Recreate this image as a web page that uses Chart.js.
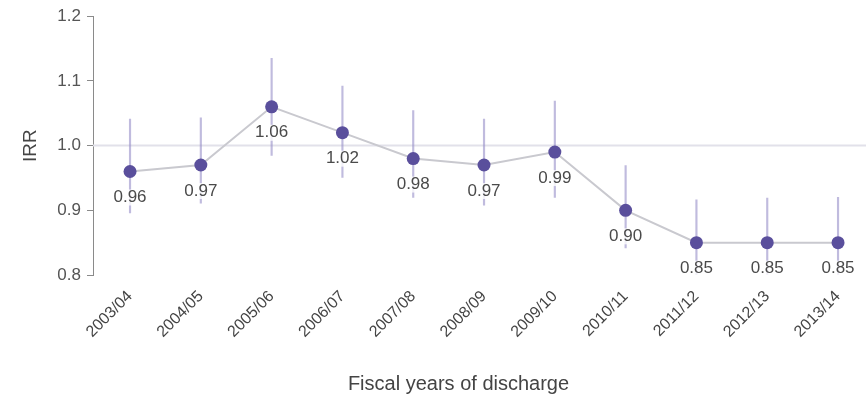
<!DOCTYPE html>
<html>
<head>
<meta charset="utf-8">
<script src="https://cdn.jsdelivr.net/npm/chart.js@4/dist/chart.umd.min.js"></script>
<style>
  html, body { margin: 0; padding: 0; background: #ffffff; }
  #wrap { width: 866px; height: 398px; }
</style>
</head>
<body>
<div id="wrap"><canvas id="chart" width="866" height="398"></canvas></div>
<script>
// Fiscal years of discharge and incidence rate ratios with 95% confidence limits
const years = ['2003/04', '2004/05', '2005/06', '2006/07', '2007/08', '2008/09',
               '2009/10', '2010/11', '2011/12', '2012/13', '2013/14'];
const irr = [0.96, 0.97, 1.06, 1.02, 0.98, 0.97, 0.99, 0.90, 0.85, 0.85, 0.85];
const ciLower = [0.896, 0.911, 0.985, 0.951, 0.920, 0.908, 0.920, 0.842, 0.79, 0.79, 0.79];
const ciUpper = [1.041, 1.043, 1.135, 1.092, 1.054, 1.041, 1.069, 0.969, 0.916, 0.919, 0.920];
const yTicks = [0.8, 0.9, 1.0, 1.1, 1.2];
const REFERENCE_IRR = 1.0;
const X_TITLE = 'Fiscal years of discharge';

const FONT = '"Liberation Sans", Arial, Helvetica, sans-serif';

// Horizontal reference line at IRR = 1
const referenceLine = {
  id: 'referenceLine',
  beforeDatasetsDraw(chart) {
    const { ctx, chartArea } = chart;
    const y = chart.scales.y.getPixelForValue(REFERENCE_IRR);
    ctx.save();
    ctx.strokeStyle = '#e2e1ea';
    ctx.lineWidth = 2;
    ctx.beginPath();
    ctx.moveTo(chartArea.left, y);
    ctx.lineTo(chartArea.right, y);
    ctx.stroke();
    ctx.restore();
  }
};

// Value labels printed under each point, plus the x-axis caption
const valueLabels = {
  id: 'valueLabels',
  afterDatasetsDraw(chart) {
    const { ctx } = chart;
    const meta = chart.getDatasetMeta(0);
    ctx.save();
    ctx.font = '17px ' + FONT;
    ctx.textAlign = 'center';
    ctx.textBaseline = 'middle';
    meta.data.forEach((pt, i) => {
      const text = irr[i].toFixed(2);
      const ty = pt.y + 26;
      const w = ctx.measureText(text).width;
      ctx.fillStyle = 'rgba(255,255,255,0.8)';
      ctx.fillRect(pt.x - w / 2 - 1, ty - 8, w + 2, 16);
      ctx.fillStyle = '#4a4a4a';
      ctx.fillText(text, pt.x, ty);
    });
    ctx.restore();
  },
  afterDraw(chart) {
    const { ctx, chartArea, height } = chart;
    ctx.save();
    ctx.font = '20px ' + FONT;
    ctx.fillStyle = '#444444';
    ctx.textAlign = 'center';
    ctx.textBaseline = 'middle';
    ctx.fillText(X_TITLE, (chartArea.left + chartArea.right) / 2 - 21, height - 14);
    ctx.restore();
  }
};

new Chart(document.getElementById('chart'), {
  type: 'line',
  data: {
    datasets: [
      {
        type: 'line',
        label: 'IRR',
        data: irr.map((v, i) => ({ x: i, y: v })),
        borderColor: '#c9c9cf',
        borderWidth: 2,
        tension: 0,
        pointRadius: 6.5,
        pointHoverRadius: 6.5,
        pointBackgroundColor: '#5a4f9c',
        pointBorderColor: '#5a4f9c',
        pointBorderWidth: 0,
        order: 0
      },
      {
        type: 'bar',
        label: '95% CI',
        data: ciLower.map((lo, i) => ({ x: i, y: [lo, ciUpper[i]] })),
        backgroundColor: 'rgba(150,142,200,0.6)',
        borderWidth: 0,
        barThickness: 1.5,
        order: 1
      }
    ]
  },
  options: {
    responsive: false,
    animation: false,
    events: [],
    layout: { autoPadding: false, padding: { left: 0, right: 0, top: 14, bottom: 0 } },
    plugins: {
      legend: { display: false },
      tooltip: { enabled: false }
    },
    scales: {
      x: {
        type: 'linear',
        min: -0.523,
        max: 10.395,
        offset: false,
        grid: { display: false, drawTicks: false },
        border: { display: false },
        afterBuildTicks(scale) {
          scale.ticks = years.map((_, i) => ({ value: i }));
        },
        afterFit(scale) {
          scale.height = 123;
          scale.paddingLeft = 0;
          scale.paddingRight = 0;
        },
        ticks: {
          autoSkip: false,
          minRotation: 45,
          maxRotation: 45,
          padding: 12,
          labelOffset: 0,
          color: '#444444',
          font: { family: FONT, size: 16 },
          callback: (v) => years[v]
        },
        title: { display: false }
      },
      y: {
        min: 0.8,
        max: 1.2,
        afterBuildTicks(scale) {
          scale.ticks = yTicks.map(v => ({ value: v }));
        },
        afterFit(scale) { scale.width = 93; },
        grid: {
          drawOnChartArea: false,
          drawTicks: true,
          tickLength: 6,
          color: '#8a8a8a'
        },
        border: { display: true, color: '#8a8a8a', width: 1 },
        ticks: {
          padding: 6,
          color: '#555555',
          font: { family: FONT, size: 17 },
          callback: (v) => v.toFixed(1)
        },
        title: {
          display: true,
          text: 'IRR',
          color: '#444444',
          font: { family: FONT, size: 19 },
          padding: { top: 19, bottom: 19 }
        }
      }
    }
  },
  plugins: [referenceLine, valueLabels]
});
</script>
</body>
</html>
